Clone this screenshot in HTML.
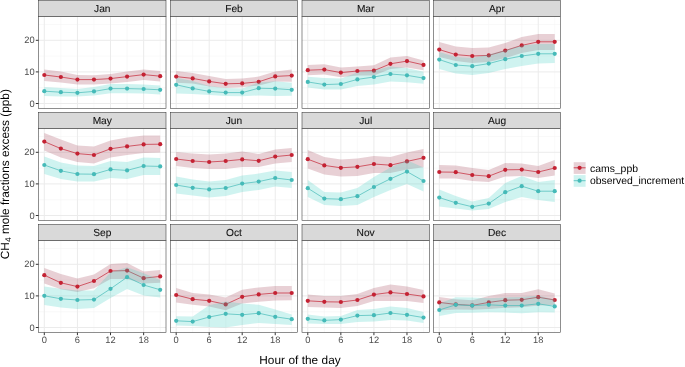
<!DOCTYPE html>
<html><head><meta charset="utf-8"><style>
html,body{margin:0;padding:0;background:#fff;}
body{width:685px;height:367px;overflow:hidden;}
svg{display:block;will-change:transform;text-rendering:geometricPrecision;font-family:"Liberation Sans",sans-serif;}
</style></head><body>
<svg width="685" height="367" viewBox="0 0 685 367">
<rect width="685" height="367" fill="#fff"/>
<line x1="60.85" y1="16.5" x2="60.85" y2="108.5" stroke="#F5F5F5" stroke-width="0.6"/>
<line x1="93.97" y1="16.5" x2="93.97" y2="108.5" stroke="#F5F5F5" stroke-width="0.6"/>
<line x1="127.09" y1="16.5" x2="127.09" y2="108.5" stroke="#F5F5F5" stroke-width="0.6"/>
<line x1="160.2" y1="16.5" x2="160.2" y2="108.5" stroke="#F5F5F5" stroke-width="0.6"/>
<line x1="38.5" y1="87.7" x2="166" y2="87.7" stroke="#F5F5F5" stroke-width="0.6"/>
<line x1="38.5" y1="56.1" x2="166" y2="56.1" stroke="#F5F5F5" stroke-width="0.6"/>
<line x1="38.5" y1="24.5" x2="166" y2="24.5" stroke="#F5F5F5" stroke-width="0.6"/>
<line x1="44.3" y1="16.5" x2="44.3" y2="108.5" stroke="#EBEBEB" stroke-width="1"/>
<line x1="77.41" y1="16.5" x2="77.41" y2="108.5" stroke="#EBEBEB" stroke-width="1"/>
<line x1="110.53" y1="16.5" x2="110.53" y2="108.5" stroke="#EBEBEB" stroke-width="1"/>
<line x1="143.65" y1="16.5" x2="143.65" y2="108.5" stroke="#EBEBEB" stroke-width="1"/>
<line x1="38.5" y1="103.5" x2="166" y2="103.5" stroke="#EBEBEB" stroke-width="1"/>
<line x1="38.5" y1="71.9" x2="166" y2="71.9" stroke="#EBEBEB" stroke-width="1"/>
<line x1="38.5" y1="40.3" x2="166" y2="40.3" stroke="#EBEBEB" stroke-width="1"/>
<path d="M44.3,69.4 L60.85,71.6 L77.41,75 L93.97,75.2 L110.53,74 L127.09,71.4 L143.65,69.4 L160.2,71 L160.2,81.6 L143.65,80 L127.09,82 L110.53,83.6 L93.97,84.4 L77.41,84.4 L60.85,82.4 L44.3,81 Z" fill="rgb(163,67,87)" fill-opacity="0.25"/>
<path d="M44.3,75 L60.85,77 L77.41,79.6 L93.97,79.6 L110.53,78.6 L127.09,76.6 L143.65,74.6 L160.2,76.2" fill="none" stroke="#C42233" stroke-width="0.7"/>
<circle cx="44.3" cy="75" r="2.1" fill="#C42233"/>
<circle cx="60.85" cy="77" r="2.1" fill="#C42233"/>
<circle cx="77.41" cy="79.6" r="2.1" fill="#C42233"/>
<circle cx="93.97" cy="79.6" r="2.1" fill="#C42233"/>
<circle cx="110.53" cy="78.6" r="2.1" fill="#C42233"/>
<circle cx="127.09" cy="76.6" r="2.1" fill="#C42233"/>
<circle cx="143.65" cy="74.6" r="2.1" fill="#C42233"/>
<circle cx="160.2" cy="76.2" r="2.1" fill="#C42233"/>
<path d="M44.3,87 L60.85,88 L77.41,89 L93.97,87 L110.53,84 L127.09,84 L143.65,84.4 L160.2,85.4 L160.2,94.4 L143.65,93.6 L127.09,93.2 L110.53,93.2 L93.97,95.6 L77.41,96.6 L60.85,96.4 L44.3,96 Z" fill="rgb(63,207,195)" fill-opacity="0.25"/>
<path d="M44.3,91.2 L60.85,92.2 L77.41,92.8 L93.97,91.4 L110.53,88.6 L127.09,88.6 L143.65,89 L160.2,89.8" fill="none" stroke="#45BAB8" stroke-width="0.7"/>
<circle cx="44.3" cy="91.2" r="2.1" fill="#45BAB8"/>
<circle cx="60.85" cy="92.2" r="2.1" fill="#45BAB8"/>
<circle cx="77.41" cy="92.8" r="2.1" fill="#45BAB8"/>
<circle cx="93.97" cy="91.4" r="2.1" fill="#45BAB8"/>
<circle cx="110.53" cy="88.6" r="2.1" fill="#45BAB8"/>
<circle cx="127.09" cy="88.6" r="2.1" fill="#45BAB8"/>
<circle cx="143.65" cy="89" r="2.1" fill="#45BAB8"/>
<circle cx="160.2" cy="89.8" r="2.1" fill="#45BAB8"/>
<rect x="38.5" y="16.5" width="127.5" height="92" fill="none" stroke="#333" stroke-width="0.55"/>
<rect x="38.5" y="0.5" width="127.5" height="16" fill="#D9D9D9" stroke="#333" stroke-width="0.55"/>
<text x="102.25" y="12" text-anchor="middle" font-size="10.2" fill="#111" stroke="#111" stroke-width="0.08">Jan</text>
<line x1="35.8" y1="103.5" x2="38.5" y2="103.5" stroke="#333" stroke-width="1"/>
<text x="34.7" y="106.6" text-anchor="end" font-size="9.3" fill="#4D4D4D">0</text>
<line x1="35.8" y1="71.9" x2="38.5" y2="71.9" stroke="#333" stroke-width="1"/>
<text x="34.7" y="75" text-anchor="end" font-size="9.3" fill="#4D4D4D">10</text>
<line x1="35.8" y1="40.3" x2="38.5" y2="40.3" stroke="#333" stroke-width="1"/>
<text x="34.7" y="43.4" text-anchor="end" font-size="9.3" fill="#4D4D4D">20</text>
<line x1="192.68" y1="16.5" x2="192.68" y2="108.5" stroke="#F5F5F5" stroke-width="0.6"/>
<line x1="225.7" y1="16.5" x2="225.7" y2="108.5" stroke="#F5F5F5" stroke-width="0.6"/>
<line x1="258.71" y1="16.5" x2="258.71" y2="108.5" stroke="#F5F5F5" stroke-width="0.6"/>
<line x1="291.72" y1="16.5" x2="291.72" y2="108.5" stroke="#F5F5F5" stroke-width="0.6"/>
<line x1="170.4" y1="87.7" x2="297.5" y2="87.7" stroke="#F5F5F5" stroke-width="0.6"/>
<line x1="170.4" y1="56.1" x2="297.5" y2="56.1" stroke="#F5F5F5" stroke-width="0.6"/>
<line x1="170.4" y1="24.5" x2="297.5" y2="24.5" stroke="#F5F5F5" stroke-width="0.6"/>
<line x1="176.18" y1="16.5" x2="176.18" y2="108.5" stroke="#EBEBEB" stroke-width="1"/>
<line x1="209.19" y1="16.5" x2="209.19" y2="108.5" stroke="#EBEBEB" stroke-width="1"/>
<line x1="242.2" y1="16.5" x2="242.2" y2="108.5" stroke="#EBEBEB" stroke-width="1"/>
<line x1="275.22" y1="16.5" x2="275.22" y2="108.5" stroke="#EBEBEB" stroke-width="1"/>
<line x1="170.4" y1="103.5" x2="297.5" y2="103.5" stroke="#EBEBEB" stroke-width="1"/>
<line x1="170.4" y1="71.9" x2="297.5" y2="71.9" stroke="#EBEBEB" stroke-width="1"/>
<line x1="170.4" y1="40.3" x2="297.5" y2="40.3" stroke="#EBEBEB" stroke-width="1"/>
<path d="M176.18,71 L192.68,73 L209.19,76 L225.7,79 L242.2,78.6 L258.71,76.6 L275.22,71.4 L291.72,69.6 L291.72,81.8 L275.22,81.4 L258.71,85.6 L242.2,87.2 L225.7,88 L209.19,86.4 L192.68,83.6 L176.18,82.8 Z" fill="rgb(163,67,87)" fill-opacity="0.25"/>
<path d="M176.18,76.6 L192.68,78.4 L209.19,81.4 L225.7,83.8 L242.2,83.4 L258.71,81.8 L275.22,76.4 L291.72,75.6" fill="none" stroke="#C42233" stroke-width="0.7"/>
<circle cx="176.18" cy="76.6" r="2.1" fill="#C42233"/>
<circle cx="192.68" cy="78.4" r="2.1" fill="#C42233"/>
<circle cx="209.19" cy="81.4" r="2.1" fill="#C42233"/>
<circle cx="225.7" cy="83.8" r="2.1" fill="#C42233"/>
<circle cx="242.2" cy="83.4" r="2.1" fill="#C42233"/>
<circle cx="258.71" cy="81.8" r="2.1" fill="#C42233"/>
<circle cx="275.22" cy="76.4" r="2.1" fill="#C42233"/>
<circle cx="291.72" cy="75.6" r="2.1" fill="#C42233"/>
<path d="M176.18,77.8 L192.68,81 L209.19,86 L225.7,88 L242.2,88.4 L258.71,82.4 L275.22,81.2 L291.72,82.8 L291.72,95.8 L275.22,96 L258.71,95.4 L242.2,96.2 L225.7,96 L209.19,95 L192.68,94 L176.18,93.6 Z" fill="rgb(63,207,195)" fill-opacity="0.25"/>
<path d="M176.18,84.8 L192.68,88.4 L209.19,91.4 L225.7,92.6 L242.2,92.6 L258.71,88.2 L275.22,88.6 L291.72,89.8" fill="none" stroke="#45BAB8" stroke-width="0.7"/>
<circle cx="176.18" cy="84.8" r="2.1" fill="#45BAB8"/>
<circle cx="192.68" cy="88.4" r="2.1" fill="#45BAB8"/>
<circle cx="209.19" cy="91.4" r="2.1" fill="#45BAB8"/>
<circle cx="225.7" cy="92.6" r="2.1" fill="#45BAB8"/>
<circle cx="242.2" cy="92.6" r="2.1" fill="#45BAB8"/>
<circle cx="258.71" cy="88.2" r="2.1" fill="#45BAB8"/>
<circle cx="275.22" cy="88.6" r="2.1" fill="#45BAB8"/>
<circle cx="291.72" cy="89.8" r="2.1" fill="#45BAB8"/>
<rect x="170.4" y="16.5" width="127.1" height="92" fill="none" stroke="#333" stroke-width="0.55"/>
<rect x="170.4" y="0.5" width="127.1" height="16" fill="#D9D9D9" stroke="#333" stroke-width="0.55"/>
<text x="233.95" y="12" text-anchor="middle" font-size="10.2" fill="#111" stroke="#111" stroke-width="0.08">Feb</text>
<line x1="324.32" y1="16.5" x2="324.32" y2="108.5" stroke="#F5F5F5" stroke-width="0.6"/>
<line x1="357.38" y1="16.5" x2="357.38" y2="108.5" stroke="#F5F5F5" stroke-width="0.6"/>
<line x1="390.45" y1="16.5" x2="390.45" y2="108.5" stroke="#F5F5F5" stroke-width="0.6"/>
<line x1="423.51" y1="16.5" x2="423.51" y2="108.5" stroke="#F5F5F5" stroke-width="0.6"/>
<line x1="302" y1="87.7" x2="429.3" y2="87.7" stroke="#F5F5F5" stroke-width="0.6"/>
<line x1="302" y1="56.1" x2="429.3" y2="56.1" stroke="#F5F5F5" stroke-width="0.6"/>
<line x1="302" y1="24.5" x2="429.3" y2="24.5" stroke="#F5F5F5" stroke-width="0.6"/>
<line x1="307.79" y1="16.5" x2="307.79" y2="108.5" stroke="#EBEBEB" stroke-width="1"/>
<line x1="340.85" y1="16.5" x2="340.85" y2="108.5" stroke="#EBEBEB" stroke-width="1"/>
<line x1="373.92" y1="16.5" x2="373.92" y2="108.5" stroke="#EBEBEB" stroke-width="1"/>
<line x1="406.98" y1="16.5" x2="406.98" y2="108.5" stroke="#EBEBEB" stroke-width="1"/>
<line x1="302" y1="103.5" x2="429.3" y2="103.5" stroke="#EBEBEB" stroke-width="1"/>
<line x1="302" y1="71.9" x2="429.3" y2="71.9" stroke="#EBEBEB" stroke-width="1"/>
<line x1="302" y1="40.3" x2="429.3" y2="40.3" stroke="#EBEBEB" stroke-width="1"/>
<path d="M307.79,65 L324.32,64.2 L340.85,67.4 L357.38,66.4 L373.92,65.3 L390.45,57.6 L406.98,56 L423.51,60.4 L423.51,70.2 L406.98,67.4 L390.45,69.1 L373.92,75.6 L357.38,75.6 L340.85,77.2 L324.32,74.52 L307.79,75.3 Z" fill="rgb(163,67,87)" fill-opacity="0.25"/>
<path d="M307.79,70.2 L324.32,69.6 L340.85,72.6 L357.38,71 L373.92,70.7 L390.45,63.8 L406.98,61.1 L423.51,64.9" fill="none" stroke="#C42233" stroke-width="0.7"/>
<circle cx="307.79" cy="70.2" r="2.1" fill="#C42233"/>
<circle cx="324.32" cy="69.6" r="2.1" fill="#C42233"/>
<circle cx="340.85" cy="72.6" r="2.1" fill="#C42233"/>
<circle cx="357.38" cy="71" r="2.1" fill="#C42233"/>
<circle cx="373.92" cy="70.7" r="2.1" fill="#C42233"/>
<circle cx="390.45" cy="63.8" r="2.1" fill="#C42233"/>
<circle cx="406.98" cy="61.1" r="2.1" fill="#C42233"/>
<circle cx="423.51" cy="64.9" r="2.1" fill="#C42233"/>
<path d="M307.79,76.72 L324.32,78.12 L340.85,78.6 L357.38,72.4 L373.92,70.4 L390.45,66.4 L406.98,68 L423.51,71.8 L423.51,83.8 L406.98,82.2 L390.45,81.6 L373.92,84.4 L357.38,86 L340.85,89.6 L324.32,89.6 L307.79,87.6 Z" fill="rgb(63,207,195)" fill-opacity="0.25"/>
<path d="M307.79,81.94 L324.32,84.6 L340.85,84 L357.38,79.4 L373.92,77 L390.45,74 L406.98,75.3 L423.51,78.1" fill="none" stroke="#45BAB8" stroke-width="0.7"/>
<circle cx="307.79" cy="81.94" r="2.1" fill="#45BAB8"/>
<circle cx="324.32" cy="84.6" r="2.1" fill="#45BAB8"/>
<circle cx="340.85" cy="84" r="2.1" fill="#45BAB8"/>
<circle cx="357.38" cy="79.4" r="2.1" fill="#45BAB8"/>
<circle cx="373.92" cy="77" r="2.1" fill="#45BAB8"/>
<circle cx="390.45" cy="74" r="2.1" fill="#45BAB8"/>
<circle cx="406.98" cy="75.3" r="2.1" fill="#45BAB8"/>
<circle cx="423.51" cy="78.1" r="2.1" fill="#45BAB8"/>
<rect x="302" y="16.5" width="127.3" height="92" fill="none" stroke="#333" stroke-width="0.55"/>
<rect x="302" y="0.5" width="127.3" height="16" fill="#D9D9D9" stroke="#333" stroke-width="0.55"/>
<text x="365.65" y="12" text-anchor="middle" font-size="10.2" fill="#111" stroke="#111" stroke-width="0.08">Mar</text>
<line x1="455.77" y1="16.5" x2="455.77" y2="108.5" stroke="#F5F5F5" stroke-width="0.6"/>
<line x1="488.75" y1="16.5" x2="488.75" y2="108.5" stroke="#F5F5F5" stroke-width="0.6"/>
<line x1="521.74" y1="16.5" x2="521.74" y2="108.5" stroke="#F5F5F5" stroke-width="0.6"/>
<line x1="554.73" y1="16.5" x2="554.73" y2="108.5" stroke="#F5F5F5" stroke-width="0.6"/>
<line x1="433.5" y1="87.7" x2="560.5" y2="87.7" stroke="#F5F5F5" stroke-width="0.6"/>
<line x1="433.5" y1="56.1" x2="560.5" y2="56.1" stroke="#F5F5F5" stroke-width="0.6"/>
<line x1="433.5" y1="24.5" x2="560.5" y2="24.5" stroke="#F5F5F5" stroke-width="0.6"/>
<line x1="439.27" y1="16.5" x2="439.27" y2="108.5" stroke="#EBEBEB" stroke-width="1"/>
<line x1="472.26" y1="16.5" x2="472.26" y2="108.5" stroke="#EBEBEB" stroke-width="1"/>
<line x1="505.25" y1="16.5" x2="505.25" y2="108.5" stroke="#EBEBEB" stroke-width="1"/>
<line x1="538.23" y1="16.5" x2="538.23" y2="108.5" stroke="#EBEBEB" stroke-width="1"/>
<line x1="433.5" y1="103.5" x2="560.5" y2="103.5" stroke="#EBEBEB" stroke-width="1"/>
<line x1="433.5" y1="71.9" x2="560.5" y2="71.9" stroke="#EBEBEB" stroke-width="1"/>
<line x1="433.5" y1="40.3" x2="560.5" y2="40.3" stroke="#EBEBEB" stroke-width="1"/>
<path d="M439.27,42 L455.77,46.6 L472.26,48 L488.75,47.4 L505.25,43 L521.74,37 L538.23,34 L554.73,34 L554.73,50 L538.23,50 L521.74,53 L505.25,58 L488.75,62 L472.26,63 L455.77,61 L439.27,57 Z" fill="rgb(163,67,87)" fill-opacity="0.25"/>
<path d="M439.27,49.6 L455.77,54.6 L472.26,56 L488.75,55.4 L505.25,50.6 L521.74,45.4 L538.23,41.8 L554.73,41.8" fill="none" stroke="#C42233" stroke-width="0.7"/>
<circle cx="439.27" cy="49.6" r="2.1" fill="#C42233"/>
<circle cx="455.77" cy="54.6" r="2.1" fill="#C42233"/>
<circle cx="472.26" cy="56" r="2.1" fill="#C42233"/>
<circle cx="488.75" cy="55.4" r="2.1" fill="#C42233"/>
<circle cx="505.25" cy="50.6" r="2.1" fill="#C42233"/>
<circle cx="521.74" cy="45.4" r="2.1" fill="#C42233"/>
<circle cx="538.23" cy="41.8" r="2.1" fill="#C42233"/>
<circle cx="554.73" cy="41.8" r="2.1" fill="#C42233"/>
<path d="M439.27,52 L455.77,57 L472.26,58 L488.75,54.6 L505.25,50 L521.74,45.6 L538.23,44 L554.73,44 L554.73,63 L538.23,63.6 L521.74,66 L505.25,69 L488.75,73 L472.26,75 L455.77,73.6 L439.27,69 Z" fill="rgb(63,207,195)" fill-opacity="0.25"/>
<path d="M439.27,59.6 L455.77,65 L472.26,66.2 L488.75,63.6 L505.25,59.2 L521.74,56 L538.23,53.8 L554.73,53.8" fill="none" stroke="#45BAB8" stroke-width="0.7"/>
<circle cx="439.27" cy="59.6" r="2.1" fill="#45BAB8"/>
<circle cx="455.77" cy="65" r="2.1" fill="#45BAB8"/>
<circle cx="472.26" cy="66.2" r="2.1" fill="#45BAB8"/>
<circle cx="488.75" cy="63.6" r="2.1" fill="#45BAB8"/>
<circle cx="505.25" cy="59.2" r="2.1" fill="#45BAB8"/>
<circle cx="521.74" cy="56" r="2.1" fill="#45BAB8"/>
<circle cx="538.23" cy="53.8" r="2.1" fill="#45BAB8"/>
<circle cx="554.73" cy="53.8" r="2.1" fill="#45BAB8"/>
<rect x="433.5" y="16.5" width="127" height="92" fill="none" stroke="#333" stroke-width="0.55"/>
<rect x="433.5" y="0.5" width="127" height="16" fill="#D9D9D9" stroke="#333" stroke-width="0.55"/>
<text x="497" y="12" text-anchor="middle" font-size="10.2" fill="#111" stroke="#111" stroke-width="0.08">Apr</text>
<line x1="60.85" y1="128.5" x2="60.85" y2="220.5" stroke="#F5F5F5" stroke-width="0.6"/>
<line x1="93.97" y1="128.5" x2="93.97" y2="220.5" stroke="#F5F5F5" stroke-width="0.6"/>
<line x1="127.09" y1="128.5" x2="127.09" y2="220.5" stroke="#F5F5F5" stroke-width="0.6"/>
<line x1="160.2" y1="128.5" x2="160.2" y2="220.5" stroke="#F5F5F5" stroke-width="0.6"/>
<line x1="38.5" y1="199.7" x2="166" y2="199.7" stroke="#F5F5F5" stroke-width="0.6"/>
<line x1="38.5" y1="168.1" x2="166" y2="168.1" stroke="#F5F5F5" stroke-width="0.6"/>
<line x1="38.5" y1="136.5" x2="166" y2="136.5" stroke="#F5F5F5" stroke-width="0.6"/>
<line x1="44.3" y1="128.5" x2="44.3" y2="220.5" stroke="#EBEBEB" stroke-width="1"/>
<line x1="77.41" y1="128.5" x2="77.41" y2="220.5" stroke="#EBEBEB" stroke-width="1"/>
<line x1="110.53" y1="128.5" x2="110.53" y2="220.5" stroke="#EBEBEB" stroke-width="1"/>
<line x1="143.65" y1="128.5" x2="143.65" y2="220.5" stroke="#EBEBEB" stroke-width="1"/>
<line x1="38.5" y1="215.5" x2="166" y2="215.5" stroke="#EBEBEB" stroke-width="1"/>
<line x1="38.5" y1="183.9" x2="166" y2="183.9" stroke="#EBEBEB" stroke-width="1"/>
<line x1="38.5" y1="152.3" x2="166" y2="152.3" stroke="#EBEBEB" stroke-width="1"/>
<path d="M44.3,133 L60.85,139.6 L77.41,145.6 L93.97,146.6 L110.53,140.4 L127.09,137.6 L143.65,135.4 L160.2,135.4 L160.2,152.6 L143.65,153 L127.09,155 L110.53,157.4 L93.97,163.6 L77.41,162 L60.85,157.6 L44.3,150.4 Z" fill="rgb(163,67,87)" fill-opacity="0.25"/>
<path d="M44.3,141.6 L60.85,148.6 L77.41,153.6 L93.97,155 L110.53,148.8 L127.09,146.4 L143.65,144.4 L160.2,144.2" fill="none" stroke="#C42233" stroke-width="0.7"/>
<circle cx="44.3" cy="141.6" r="2.1" fill="#C42233"/>
<circle cx="60.85" cy="148.6" r="2.1" fill="#C42233"/>
<circle cx="77.41" cy="153.6" r="2.1" fill="#C42233"/>
<circle cx="93.97" cy="155" r="2.1" fill="#C42233"/>
<circle cx="110.53" cy="148.8" r="2.1" fill="#C42233"/>
<circle cx="127.09" cy="146.4" r="2.1" fill="#C42233"/>
<circle cx="143.65" cy="144.4" r="2.1" fill="#C42233"/>
<circle cx="160.2" cy="144.2" r="2.1" fill="#C42233"/>
<path d="M44.3,156.6 L60.85,162.4 L77.41,165.6 L93.97,166 L110.53,161 L127.09,162 L143.65,157.6 L160.2,158 L160.2,175 L143.65,175 L127.09,179 L110.53,178 L93.97,181.6 L77.41,181.6 L60.85,179 L44.3,174 Z" fill="rgb(63,207,195)" fill-opacity="0.25"/>
<path d="M44.3,165 L60.85,170.8 L77.41,174 L93.97,174.2 L110.53,169.4 L127.09,170.4 L143.65,166 L160.2,166.4" fill="none" stroke="#45BAB8" stroke-width="0.7"/>
<circle cx="44.3" cy="165" r="2.1" fill="#45BAB8"/>
<circle cx="60.85" cy="170.8" r="2.1" fill="#45BAB8"/>
<circle cx="77.41" cy="174" r="2.1" fill="#45BAB8"/>
<circle cx="93.97" cy="174.2" r="2.1" fill="#45BAB8"/>
<circle cx="110.53" cy="169.4" r="2.1" fill="#45BAB8"/>
<circle cx="127.09" cy="170.4" r="2.1" fill="#45BAB8"/>
<circle cx="143.65" cy="166" r="2.1" fill="#45BAB8"/>
<circle cx="160.2" cy="166.4" r="2.1" fill="#45BAB8"/>
<rect x="38.5" y="128.5" width="127.5" height="92" fill="none" stroke="#333" stroke-width="0.55"/>
<rect x="38.5" y="112.5" width="127.5" height="16" fill="#D9D9D9" stroke="#333" stroke-width="0.55"/>
<text x="102.25" y="124" text-anchor="middle" font-size="10.2" fill="#111" stroke="#111" stroke-width="0.08">May</text>
<line x1="35.8" y1="215.5" x2="38.5" y2="215.5" stroke="#333" stroke-width="1"/>
<text x="34.7" y="218.6" text-anchor="end" font-size="9.3" fill="#4D4D4D">0</text>
<line x1="35.8" y1="183.9" x2="38.5" y2="183.9" stroke="#333" stroke-width="1"/>
<text x="34.7" y="187" text-anchor="end" font-size="9.3" fill="#4D4D4D">10</text>
<line x1="35.8" y1="152.3" x2="38.5" y2="152.3" stroke="#333" stroke-width="1"/>
<text x="34.7" y="155.4" text-anchor="end" font-size="9.3" fill="#4D4D4D">20</text>
<line x1="192.68" y1="128.5" x2="192.68" y2="220.5" stroke="#F5F5F5" stroke-width="0.6"/>
<line x1="225.7" y1="128.5" x2="225.7" y2="220.5" stroke="#F5F5F5" stroke-width="0.6"/>
<line x1="258.71" y1="128.5" x2="258.71" y2="220.5" stroke="#F5F5F5" stroke-width="0.6"/>
<line x1="291.72" y1="128.5" x2="291.72" y2="220.5" stroke="#F5F5F5" stroke-width="0.6"/>
<line x1="170.4" y1="199.7" x2="297.5" y2="199.7" stroke="#F5F5F5" stroke-width="0.6"/>
<line x1="170.4" y1="168.1" x2="297.5" y2="168.1" stroke="#F5F5F5" stroke-width="0.6"/>
<line x1="170.4" y1="136.5" x2="297.5" y2="136.5" stroke="#F5F5F5" stroke-width="0.6"/>
<line x1="176.18" y1="128.5" x2="176.18" y2="220.5" stroke="#EBEBEB" stroke-width="1"/>
<line x1="209.19" y1="128.5" x2="209.19" y2="220.5" stroke="#EBEBEB" stroke-width="1"/>
<line x1="242.2" y1="128.5" x2="242.2" y2="220.5" stroke="#EBEBEB" stroke-width="1"/>
<line x1="275.22" y1="128.5" x2="275.22" y2="220.5" stroke="#EBEBEB" stroke-width="1"/>
<line x1="170.4" y1="215.5" x2="297.5" y2="215.5" stroke="#EBEBEB" stroke-width="1"/>
<line x1="170.4" y1="183.9" x2="297.5" y2="183.9" stroke="#EBEBEB" stroke-width="1"/>
<line x1="170.4" y1="152.3" x2="297.5" y2="152.3" stroke="#EBEBEB" stroke-width="1"/>
<path d="M176.18,152 L192.68,153.6 L209.19,154.4 L225.7,153.4 L242.2,151.4 L258.71,154 L275.22,149.4 L291.72,148 L291.72,162 L275.22,163.4 L258.71,167 L242.2,167 L225.7,169 L209.19,169 L192.68,168 L176.18,166 Z" fill="rgb(163,67,87)" fill-opacity="0.25"/>
<path d="M176.18,159 L192.68,161 L209.19,162 L225.7,161 L242.2,159.4 L258.71,160.8 L275.22,156.6 L291.72,155" fill="none" stroke="#C42233" stroke-width="0.7"/>
<circle cx="176.18" cy="159" r="2.1" fill="#C42233"/>
<circle cx="192.68" cy="161" r="2.1" fill="#C42233"/>
<circle cx="209.19" cy="162" r="2.1" fill="#C42233"/>
<circle cx="225.7" cy="161" r="2.1" fill="#C42233"/>
<circle cx="242.2" cy="159.4" r="2.1" fill="#C42233"/>
<circle cx="258.71" cy="160.8" r="2.1" fill="#C42233"/>
<circle cx="275.22" cy="156.6" r="2.1" fill="#C42233"/>
<circle cx="291.72" cy="155" r="2.1" fill="#C42233"/>
<path d="M176.18,176.4 L192.68,179.4 L209.19,181.4 L225.7,180 L242.2,175.6 L258.71,173.6 L275.22,170.6 L291.72,172 L291.72,188 L275.22,186.6 L258.71,190 L242.2,192 L225.7,196 L209.19,197.4 L192.68,195.6 L176.18,193.6 Z" fill="rgb(63,207,195)" fill-opacity="0.25"/>
<path d="M176.18,185 L192.68,187.8 L209.19,189.4 L225.7,188 L242.2,183.6 L258.71,181.6 L275.22,178 L291.72,180" fill="none" stroke="#45BAB8" stroke-width="0.7"/>
<circle cx="176.18" cy="185" r="2.1" fill="#45BAB8"/>
<circle cx="192.68" cy="187.8" r="2.1" fill="#45BAB8"/>
<circle cx="209.19" cy="189.4" r="2.1" fill="#45BAB8"/>
<circle cx="225.7" cy="188" r="2.1" fill="#45BAB8"/>
<circle cx="242.2" cy="183.6" r="2.1" fill="#45BAB8"/>
<circle cx="258.71" cy="181.6" r="2.1" fill="#45BAB8"/>
<circle cx="275.22" cy="178" r="2.1" fill="#45BAB8"/>
<circle cx="291.72" cy="180" r="2.1" fill="#45BAB8"/>
<rect x="170.4" y="128.5" width="127.1" height="92" fill="none" stroke="#333" stroke-width="0.55"/>
<rect x="170.4" y="112.5" width="127.1" height="16" fill="#D9D9D9" stroke="#333" stroke-width="0.55"/>
<text x="233.95" y="124" text-anchor="middle" font-size="10.2" fill="#111" stroke="#111" stroke-width="0.08">Jun</text>
<line x1="324.32" y1="128.5" x2="324.32" y2="220.5" stroke="#F5F5F5" stroke-width="0.6"/>
<line x1="357.38" y1="128.5" x2="357.38" y2="220.5" stroke="#F5F5F5" stroke-width="0.6"/>
<line x1="390.45" y1="128.5" x2="390.45" y2="220.5" stroke="#F5F5F5" stroke-width="0.6"/>
<line x1="423.51" y1="128.5" x2="423.51" y2="220.5" stroke="#F5F5F5" stroke-width="0.6"/>
<line x1="302" y1="199.7" x2="429.3" y2="199.7" stroke="#F5F5F5" stroke-width="0.6"/>
<line x1="302" y1="168.1" x2="429.3" y2="168.1" stroke="#F5F5F5" stroke-width="0.6"/>
<line x1="302" y1="136.5" x2="429.3" y2="136.5" stroke="#F5F5F5" stroke-width="0.6"/>
<line x1="307.79" y1="128.5" x2="307.79" y2="220.5" stroke="#EBEBEB" stroke-width="1"/>
<line x1="340.85" y1="128.5" x2="340.85" y2="220.5" stroke="#EBEBEB" stroke-width="1"/>
<line x1="373.92" y1="128.5" x2="373.92" y2="220.5" stroke="#EBEBEB" stroke-width="1"/>
<line x1="406.98" y1="128.5" x2="406.98" y2="220.5" stroke="#EBEBEB" stroke-width="1"/>
<line x1="302" y1="215.5" x2="429.3" y2="215.5" stroke="#EBEBEB" stroke-width="1"/>
<line x1="302" y1="183.9" x2="429.3" y2="183.9" stroke="#EBEBEB" stroke-width="1"/>
<line x1="302" y1="152.3" x2="429.3" y2="152.3" stroke="#EBEBEB" stroke-width="1"/>
<path d="M307.79,150 L324.32,157 L340.85,159.4 L357.38,158.4 L373.92,156 L390.45,157 L406.98,152.6 L423.51,149 L423.51,167.2 L406.98,169.4 L390.45,173 L373.92,173 L357.38,176 L340.85,176.6 L324.32,174.4 L307.79,168.6 Z" fill="rgb(163,67,87)" fill-opacity="0.25"/>
<path d="M307.79,159.2 L324.32,165.4 L340.85,167.8 L357.38,166.8 L373.92,164 L390.45,165.2 L406.98,161.4 L423.51,157.8" fill="none" stroke="#C42233" stroke-width="0.7"/>
<circle cx="307.79" cy="159.2" r="2.1" fill="#C42233"/>
<circle cx="324.32" cy="165.4" r="2.1" fill="#C42233"/>
<circle cx="340.85" cy="167.8" r="2.1" fill="#C42233"/>
<circle cx="357.38" cy="166.8" r="2.1" fill="#C42233"/>
<circle cx="373.92" cy="164" r="2.1" fill="#C42233"/>
<circle cx="390.45" cy="165.2" r="2.1" fill="#C42233"/>
<circle cx="406.98" cy="161.4" r="2.1" fill="#C42233"/>
<circle cx="423.51" cy="157.8" r="2.1" fill="#C42233"/>
<path d="M307.79,180 L324.32,192 L340.85,192.4 L357.38,188 L373.92,177 L390.45,167.4 L406.98,160.2 L423.51,167.4 L423.51,191.6 L406.98,184 L390.45,190 L373.92,197 L357.38,205 L340.85,206 L324.32,205 L307.79,197 Z" fill="rgb(63,207,195)" fill-opacity="0.25"/>
<path d="M307.79,188.2 L324.32,198.6 L340.85,199.2 L357.38,196.2 L373.92,187 L390.45,178.8 L406.98,171.6 L423.51,181" fill="none" stroke="#45BAB8" stroke-width="0.7"/>
<circle cx="307.79" cy="188.2" r="2.1" fill="#45BAB8"/>
<circle cx="324.32" cy="198.6" r="2.1" fill="#45BAB8"/>
<circle cx="340.85" cy="199.2" r="2.1" fill="#45BAB8"/>
<circle cx="357.38" cy="196.2" r="2.1" fill="#45BAB8"/>
<circle cx="373.92" cy="187" r="2.1" fill="#45BAB8"/>
<circle cx="390.45" cy="178.8" r="2.1" fill="#45BAB8"/>
<circle cx="406.98" cy="171.6" r="2.1" fill="#45BAB8"/>
<circle cx="423.51" cy="181" r="2.1" fill="#45BAB8"/>
<rect x="302" y="128.5" width="127.3" height="92" fill="none" stroke="#333" stroke-width="0.55"/>
<rect x="302" y="112.5" width="127.3" height="16" fill="#D9D9D9" stroke="#333" stroke-width="0.55"/>
<text x="365.65" y="124" text-anchor="middle" font-size="10.2" fill="#111" stroke="#111" stroke-width="0.08">Jul</text>
<line x1="455.77" y1="128.5" x2="455.77" y2="220.5" stroke="#F5F5F5" stroke-width="0.6"/>
<line x1="488.75" y1="128.5" x2="488.75" y2="220.5" stroke="#F5F5F5" stroke-width="0.6"/>
<line x1="521.74" y1="128.5" x2="521.74" y2="220.5" stroke="#F5F5F5" stroke-width="0.6"/>
<line x1="554.73" y1="128.5" x2="554.73" y2="220.5" stroke="#F5F5F5" stroke-width="0.6"/>
<line x1="433.5" y1="199.7" x2="560.5" y2="199.7" stroke="#F5F5F5" stroke-width="0.6"/>
<line x1="433.5" y1="168.1" x2="560.5" y2="168.1" stroke="#F5F5F5" stroke-width="0.6"/>
<line x1="433.5" y1="136.5" x2="560.5" y2="136.5" stroke="#F5F5F5" stroke-width="0.6"/>
<line x1="439.27" y1="128.5" x2="439.27" y2="220.5" stroke="#EBEBEB" stroke-width="1"/>
<line x1="472.26" y1="128.5" x2="472.26" y2="220.5" stroke="#EBEBEB" stroke-width="1"/>
<line x1="505.25" y1="128.5" x2="505.25" y2="220.5" stroke="#EBEBEB" stroke-width="1"/>
<line x1="538.23" y1="128.5" x2="538.23" y2="220.5" stroke="#EBEBEB" stroke-width="1"/>
<line x1="433.5" y1="215.5" x2="560.5" y2="215.5" stroke="#EBEBEB" stroke-width="1"/>
<line x1="433.5" y1="183.9" x2="560.5" y2="183.9" stroke="#EBEBEB" stroke-width="1"/>
<line x1="433.5" y1="152.3" x2="560.5" y2="152.3" stroke="#EBEBEB" stroke-width="1"/>
<path d="M439.27,165 L455.77,165.6 L472.26,168 L488.75,170 L505.25,163 L521.74,163.6 L538.23,166 L554.73,160 L554.73,175.6 L538.23,178 L521.74,176 L505.25,176.6 L488.75,182 L472.26,181 L455.77,178.6 L439.27,178.6 Z" fill="rgb(163,67,87)" fill-opacity="0.25"/>
<path d="M439.27,172 L455.77,172.2 L472.26,175 L488.75,176.2 L505.25,169.8 L521.74,169.6 L538.23,172 L554.73,168" fill="none" stroke="#C42233" stroke-width="0.7"/>
<circle cx="439.27" cy="172" r="2.1" fill="#C42233"/>
<circle cx="455.77" cy="172.2" r="2.1" fill="#C42233"/>
<circle cx="472.26" cy="175" r="2.1" fill="#C42233"/>
<circle cx="488.75" cy="176.2" r="2.1" fill="#C42233"/>
<circle cx="505.25" cy="169.8" r="2.1" fill="#C42233"/>
<circle cx="521.74" cy="169.6" r="2.1" fill="#C42233"/>
<circle cx="538.23" cy="172" r="2.1" fill="#C42233"/>
<circle cx="554.73" cy="168" r="2.1" fill="#C42233"/>
<path d="M439.27,189.6 L455.77,196 L472.26,201.6 L488.75,198 L505.25,183 L521.74,176 L538.23,182 L554.73,180 L554.73,202 L538.23,200 L521.74,197 L505.25,202 L488.75,209 L472.26,210.4 L455.77,208.4 L439.27,206.4 Z" fill="rgb(63,207,195)" fill-opacity="0.25"/>
<path d="M439.27,197.6 L455.77,202.8 L472.26,206.8 L488.75,203.6 L505.25,192.2 L521.74,186.2 L538.23,191.2 L554.73,191.2" fill="none" stroke="#45BAB8" stroke-width="0.7"/>
<circle cx="439.27" cy="197.6" r="2.1" fill="#45BAB8"/>
<circle cx="455.77" cy="202.8" r="2.1" fill="#45BAB8"/>
<circle cx="472.26" cy="206.8" r="2.1" fill="#45BAB8"/>
<circle cx="488.75" cy="203.6" r="2.1" fill="#45BAB8"/>
<circle cx="505.25" cy="192.2" r="2.1" fill="#45BAB8"/>
<circle cx="521.74" cy="186.2" r="2.1" fill="#45BAB8"/>
<circle cx="538.23" cy="191.2" r="2.1" fill="#45BAB8"/>
<circle cx="554.73" cy="191.2" r="2.1" fill="#45BAB8"/>
<rect x="433.5" y="128.5" width="127" height="92" fill="none" stroke="#333" stroke-width="0.55"/>
<rect x="433.5" y="112.5" width="127" height="16" fill="#D9D9D9" stroke="#333" stroke-width="0.55"/>
<text x="497" y="124" text-anchor="middle" font-size="10.2" fill="#111" stroke="#111" stroke-width="0.08">Aug</text>
<line x1="60.85" y1="240.5" x2="60.85" y2="332.5" stroke="#F5F5F5" stroke-width="0.6"/>
<line x1="93.97" y1="240.5" x2="93.97" y2="332.5" stroke="#F5F5F5" stroke-width="0.6"/>
<line x1="127.09" y1="240.5" x2="127.09" y2="332.5" stroke="#F5F5F5" stroke-width="0.6"/>
<line x1="160.2" y1="240.5" x2="160.2" y2="332.5" stroke="#F5F5F5" stroke-width="0.6"/>
<line x1="38.5" y1="311.7" x2="166" y2="311.7" stroke="#F5F5F5" stroke-width="0.6"/>
<line x1="38.5" y1="280.1" x2="166" y2="280.1" stroke="#F5F5F5" stroke-width="0.6"/>
<line x1="38.5" y1="248.5" x2="166" y2="248.5" stroke="#F5F5F5" stroke-width="0.6"/>
<line x1="44.3" y1="240.5" x2="44.3" y2="332.5" stroke="#EBEBEB" stroke-width="1"/>
<line x1="77.41" y1="240.5" x2="77.41" y2="332.5" stroke="#EBEBEB" stroke-width="1"/>
<line x1="110.53" y1="240.5" x2="110.53" y2="332.5" stroke="#EBEBEB" stroke-width="1"/>
<line x1="143.65" y1="240.5" x2="143.65" y2="332.5" stroke="#EBEBEB" stroke-width="1"/>
<line x1="38.5" y1="327.5" x2="166" y2="327.5" stroke="#EBEBEB" stroke-width="1"/>
<line x1="38.5" y1="295.9" x2="166" y2="295.9" stroke="#EBEBEB" stroke-width="1"/>
<line x1="38.5" y1="264.3" x2="166" y2="264.3" stroke="#EBEBEB" stroke-width="1"/>
<path d="M44.3,268 L60.85,274 L77.41,278.4 L93.97,274.6 L110.53,264 L127.09,263 L143.65,271.6 L160.2,270 L160.2,282.8 L143.65,283.6 L127.09,279 L110.53,279 L93.97,288.2 L77.41,292 L60.85,289.2 L44.3,283.6 Z" fill="rgb(163,67,87)" fill-opacity="0.25"/>
<path d="M44.3,275.2 L60.85,282.8 L77.41,286.6 L93.97,281 L110.53,271 L127.09,270.6 L143.65,278.2 L160.2,276.4" fill="none" stroke="#C42233" stroke-width="0.7"/>
<circle cx="44.3" cy="275.2" r="2.1" fill="#C42233"/>
<circle cx="60.85" cy="282.8" r="2.1" fill="#C42233"/>
<circle cx="77.41" cy="286.6" r="2.1" fill="#C42233"/>
<circle cx="93.97" cy="281" r="2.1" fill="#C42233"/>
<circle cx="110.53" cy="271" r="2.1" fill="#C42233"/>
<circle cx="127.09" cy="270.6" r="2.1" fill="#C42233"/>
<circle cx="143.65" cy="278.2" r="2.1" fill="#C42233"/>
<circle cx="160.2" cy="276.4" r="2.1" fill="#C42233"/>
<path d="M44.3,286.6 L60.85,288.8 L77.41,290.4 L93.97,290.6 L110.53,272.2 L127.09,267.2 L143.65,273.2 L160.2,280 L160.2,297.6 L143.65,295.6 L127.09,289 L110.53,298 L93.97,308 L77.41,309 L60.85,307.6 L44.3,305 Z" fill="rgb(63,207,195)" fill-opacity="0.25"/>
<path d="M44.3,295.8 L60.85,298.8 L77.41,300 L93.97,299.6 L110.53,288.8 L127.09,277.2 L143.65,285 L160.2,289.8" fill="none" stroke="#45BAB8" stroke-width="0.7"/>
<circle cx="44.3" cy="295.8" r="2.1" fill="#45BAB8"/>
<circle cx="60.85" cy="298.8" r="2.1" fill="#45BAB8"/>
<circle cx="77.41" cy="300" r="2.1" fill="#45BAB8"/>
<circle cx="93.97" cy="299.6" r="2.1" fill="#45BAB8"/>
<circle cx="110.53" cy="288.8" r="2.1" fill="#45BAB8"/>
<circle cx="127.09" cy="277.2" r="2.1" fill="#45BAB8"/>
<circle cx="143.65" cy="285" r="2.1" fill="#45BAB8"/>
<circle cx="160.2" cy="289.8" r="2.1" fill="#45BAB8"/>
<rect x="38.5" y="240.5" width="127.5" height="92" fill="none" stroke="#333" stroke-width="0.55"/>
<rect x="38.5" y="224.5" width="127.5" height="16" fill="#D9D9D9" stroke="#333" stroke-width="0.55"/>
<text x="102.25" y="236" text-anchor="middle" font-size="10.2" fill="#111" stroke="#111" stroke-width="0.08">Sep</text>
<line x1="35.8" y1="327.5" x2="38.5" y2="327.5" stroke="#333" stroke-width="1"/>
<text x="34.7" y="330.6" text-anchor="end" font-size="9.3" fill="#4D4D4D">0</text>
<line x1="35.8" y1="295.9" x2="38.5" y2="295.9" stroke="#333" stroke-width="1"/>
<text x="34.7" y="299" text-anchor="end" font-size="9.3" fill="#4D4D4D">10</text>
<line x1="35.8" y1="264.3" x2="38.5" y2="264.3" stroke="#333" stroke-width="1"/>
<text x="34.7" y="267.4" text-anchor="end" font-size="9.3" fill="#4D4D4D">20</text>
<line x1="44.3" y1="332.5" x2="44.3" y2="335.2" stroke="#333" stroke-width="1"/>
<text x="44.3" y="342.6" text-anchor="middle" font-size="9.3" fill="#4D4D4D">0</text>
<line x1="77.41" y1="332.5" x2="77.41" y2="335.2" stroke="#333" stroke-width="1"/>
<text x="77.41" y="342.6" text-anchor="middle" font-size="9.3" fill="#4D4D4D">6</text>
<line x1="110.53" y1="332.5" x2="110.53" y2="335.2" stroke="#333" stroke-width="1"/>
<text x="110.53" y="342.6" text-anchor="middle" font-size="9.3" fill="#4D4D4D">12</text>
<line x1="143.65" y1="332.5" x2="143.65" y2="335.2" stroke="#333" stroke-width="1"/>
<text x="143.65" y="342.6" text-anchor="middle" font-size="9.3" fill="#4D4D4D">18</text>
<line x1="192.68" y1="240.5" x2="192.68" y2="332.5" stroke="#F5F5F5" stroke-width="0.6"/>
<line x1="225.7" y1="240.5" x2="225.7" y2="332.5" stroke="#F5F5F5" stroke-width="0.6"/>
<line x1="258.71" y1="240.5" x2="258.71" y2="332.5" stroke="#F5F5F5" stroke-width="0.6"/>
<line x1="291.72" y1="240.5" x2="291.72" y2="332.5" stroke="#F5F5F5" stroke-width="0.6"/>
<line x1="170.4" y1="311.7" x2="297.5" y2="311.7" stroke="#F5F5F5" stroke-width="0.6"/>
<line x1="170.4" y1="280.1" x2="297.5" y2="280.1" stroke="#F5F5F5" stroke-width="0.6"/>
<line x1="170.4" y1="248.5" x2="297.5" y2="248.5" stroke="#F5F5F5" stroke-width="0.6"/>
<line x1="176.18" y1="240.5" x2="176.18" y2="332.5" stroke="#EBEBEB" stroke-width="1"/>
<line x1="209.19" y1="240.5" x2="209.19" y2="332.5" stroke="#EBEBEB" stroke-width="1"/>
<line x1="242.2" y1="240.5" x2="242.2" y2="332.5" stroke="#EBEBEB" stroke-width="1"/>
<line x1="275.22" y1="240.5" x2="275.22" y2="332.5" stroke="#EBEBEB" stroke-width="1"/>
<line x1="170.4" y1="327.5" x2="297.5" y2="327.5" stroke="#EBEBEB" stroke-width="1"/>
<line x1="170.4" y1="295.9" x2="297.5" y2="295.9" stroke="#EBEBEB" stroke-width="1"/>
<line x1="170.4" y1="264.3" x2="297.5" y2="264.3" stroke="#EBEBEB" stroke-width="1"/>
<path d="M176.18,288 L192.68,293 L209.19,294.4 L225.7,297.6 L242.2,289.8 L258.71,287.4 L275.22,286 L291.72,286 L291.72,300.2 L275.22,300.6 L258.71,301.8 L242.2,303.4 L225.7,310.2 L209.19,306.4 L192.68,304.8 L176.18,302.6 Z" fill="rgb(163,67,87)" fill-opacity="0.25"/>
<path d="M176.18,295 L192.68,299.2 L209.19,300.8 L225.7,304.4 L242.2,296.8 L258.71,294.4 L275.22,293 L291.72,293" fill="none" stroke="#C42233" stroke-width="0.7"/>
<circle cx="176.18" cy="295" r="2.1" fill="#C42233"/>
<circle cx="192.68" cy="299.2" r="2.1" fill="#C42233"/>
<circle cx="209.19" cy="300.8" r="2.1" fill="#C42233"/>
<circle cx="225.7" cy="304.4" r="2.1" fill="#C42233"/>
<circle cx="242.2" cy="296.8" r="2.1" fill="#C42233"/>
<circle cx="258.71" cy="294.4" r="2.1" fill="#C42233"/>
<circle cx="275.22" cy="293" r="2.1" fill="#C42233"/>
<circle cx="291.72" cy="293" r="2.1" fill="#C42233"/>
<path d="M176.18,316.2 L192.68,316.6 L209.19,305.2 L225.7,301.4 L242.2,303.4 L258.71,304.8 L275.22,309.4 L291.72,314.4 L291.72,325 L275.22,324 L258.71,323 L242.2,325 L225.7,327.6 L209.19,327 L192.68,326 L176.18,325.4 Z" fill="rgb(63,207,195)" fill-opacity="0.25"/>
<path d="M176.18,320.8 L192.68,321.6 L209.19,317 L225.7,313.8 L242.2,314.8 L258.71,313.2 L275.22,316.8 L291.72,319.2" fill="none" stroke="#45BAB8" stroke-width="0.7"/>
<circle cx="176.18" cy="320.8" r="2.1" fill="#45BAB8"/>
<circle cx="192.68" cy="321.6" r="2.1" fill="#45BAB8"/>
<circle cx="209.19" cy="317" r="2.1" fill="#45BAB8"/>
<circle cx="225.7" cy="313.8" r="2.1" fill="#45BAB8"/>
<circle cx="242.2" cy="314.8" r="2.1" fill="#45BAB8"/>
<circle cx="258.71" cy="313.2" r="2.1" fill="#45BAB8"/>
<circle cx="275.22" cy="316.8" r="2.1" fill="#45BAB8"/>
<circle cx="291.72" cy="319.2" r="2.1" fill="#45BAB8"/>
<rect x="170.4" y="240.5" width="127.1" height="92" fill="none" stroke="#333" stroke-width="0.55"/>
<rect x="170.4" y="224.5" width="127.1" height="16" fill="#D9D9D9" stroke="#333" stroke-width="0.55"/>
<text x="233.95" y="236" text-anchor="middle" font-size="10.2" fill="#111" stroke="#111" stroke-width="0.08">Oct</text>
<line x1="176.18" y1="332.5" x2="176.18" y2="335.2" stroke="#333" stroke-width="1"/>
<text x="176.18" y="342.6" text-anchor="middle" font-size="9.3" fill="#4D4D4D">0</text>
<line x1="209.19" y1="332.5" x2="209.19" y2="335.2" stroke="#333" stroke-width="1"/>
<text x="209.19" y="342.6" text-anchor="middle" font-size="9.3" fill="#4D4D4D">6</text>
<line x1="242.2" y1="332.5" x2="242.2" y2="335.2" stroke="#333" stroke-width="1"/>
<text x="242.2" y="342.6" text-anchor="middle" font-size="9.3" fill="#4D4D4D">12</text>
<line x1="275.22" y1="332.5" x2="275.22" y2="335.2" stroke="#333" stroke-width="1"/>
<text x="275.22" y="342.6" text-anchor="middle" font-size="9.3" fill="#4D4D4D">18</text>
<line x1="324.32" y1="240.5" x2="324.32" y2="332.5" stroke="#F5F5F5" stroke-width="0.6"/>
<line x1="357.38" y1="240.5" x2="357.38" y2="332.5" stroke="#F5F5F5" stroke-width="0.6"/>
<line x1="390.45" y1="240.5" x2="390.45" y2="332.5" stroke="#F5F5F5" stroke-width="0.6"/>
<line x1="423.51" y1="240.5" x2="423.51" y2="332.5" stroke="#F5F5F5" stroke-width="0.6"/>
<line x1="302" y1="311.7" x2="429.3" y2="311.7" stroke="#F5F5F5" stroke-width="0.6"/>
<line x1="302" y1="280.1" x2="429.3" y2="280.1" stroke="#F5F5F5" stroke-width="0.6"/>
<line x1="302" y1="248.5" x2="429.3" y2="248.5" stroke="#F5F5F5" stroke-width="0.6"/>
<line x1="307.79" y1="240.5" x2="307.79" y2="332.5" stroke="#EBEBEB" stroke-width="1"/>
<line x1="340.85" y1="240.5" x2="340.85" y2="332.5" stroke="#EBEBEB" stroke-width="1"/>
<line x1="373.92" y1="240.5" x2="373.92" y2="332.5" stroke="#EBEBEB" stroke-width="1"/>
<line x1="406.98" y1="240.5" x2="406.98" y2="332.5" stroke="#EBEBEB" stroke-width="1"/>
<line x1="302" y1="327.5" x2="429.3" y2="327.5" stroke="#EBEBEB" stroke-width="1"/>
<line x1="302" y1="295.9" x2="429.3" y2="295.9" stroke="#EBEBEB" stroke-width="1"/>
<line x1="302" y1="264.3" x2="429.3" y2="264.3" stroke="#EBEBEB" stroke-width="1"/>
<path d="M307.79,294.6 L324.32,296 L340.85,296 L357.38,294 L373.92,288 L390.45,284.4 L406.98,286.6 L423.51,290 L423.51,303 L406.98,301 L390.45,301 L373.92,301 L357.38,306 L340.85,308 L324.32,307.6 L307.79,307 Z" fill="rgb(163,67,87)" fill-opacity="0.25"/>
<path d="M307.79,300.8 L324.32,301.8 L340.85,302 L357.38,300 L373.92,294.6 L390.45,292.4 L406.98,294 L423.51,296.4" fill="none" stroke="#C42233" stroke-width="0.7"/>
<circle cx="307.79" cy="300.8" r="2.1" fill="#C42233"/>
<circle cx="324.32" cy="301.8" r="2.1" fill="#C42233"/>
<circle cx="340.85" cy="302" r="2.1" fill="#C42233"/>
<circle cx="357.38" cy="300" r="2.1" fill="#C42233"/>
<circle cx="373.92" cy="294.6" r="2.1" fill="#C42233"/>
<circle cx="390.45" cy="292.4" r="2.1" fill="#C42233"/>
<circle cx="406.98" cy="294" r="2.1" fill="#C42233"/>
<circle cx="423.51" cy="296.4" r="2.1" fill="#C42233"/>
<path d="M307.79,314.6 L324.32,316.6 L340.85,316 L357.38,310 L373.92,309 L390.45,306.6 L406.98,308 L423.51,312 L423.51,323 L406.98,320.6 L390.45,320 L373.92,321.4 L357.38,322 L340.85,324 L324.32,324 L307.79,323.4 Z" fill="rgb(63,207,195)" fill-opacity="0.25"/>
<path d="M307.79,318.8 L324.32,320.4 L340.85,319.6 L357.38,315.6 L373.92,315.2 L390.45,313 L406.98,314.8 L423.51,317.6" fill="none" stroke="#45BAB8" stroke-width="0.7"/>
<circle cx="307.79" cy="318.8" r="2.1" fill="#45BAB8"/>
<circle cx="324.32" cy="320.4" r="2.1" fill="#45BAB8"/>
<circle cx="340.85" cy="319.6" r="2.1" fill="#45BAB8"/>
<circle cx="357.38" cy="315.6" r="2.1" fill="#45BAB8"/>
<circle cx="373.92" cy="315.2" r="2.1" fill="#45BAB8"/>
<circle cx="390.45" cy="313" r="2.1" fill="#45BAB8"/>
<circle cx="406.98" cy="314.8" r="2.1" fill="#45BAB8"/>
<circle cx="423.51" cy="317.6" r="2.1" fill="#45BAB8"/>
<rect x="302" y="240.5" width="127.3" height="92" fill="none" stroke="#333" stroke-width="0.55"/>
<rect x="302" y="224.5" width="127.3" height="16" fill="#D9D9D9" stroke="#333" stroke-width="0.55"/>
<text x="365.65" y="236" text-anchor="middle" font-size="10.2" fill="#111" stroke="#111" stroke-width="0.08">Nov</text>
<line x1="307.79" y1="332.5" x2="307.79" y2="335.2" stroke="#333" stroke-width="1"/>
<text x="307.79" y="342.6" text-anchor="middle" font-size="9.3" fill="#4D4D4D">0</text>
<line x1="340.85" y1="332.5" x2="340.85" y2="335.2" stroke="#333" stroke-width="1"/>
<text x="340.85" y="342.6" text-anchor="middle" font-size="9.3" fill="#4D4D4D">6</text>
<line x1="373.92" y1="332.5" x2="373.92" y2="335.2" stroke="#333" stroke-width="1"/>
<text x="373.92" y="342.6" text-anchor="middle" font-size="9.3" fill="#4D4D4D">12</text>
<line x1="406.98" y1="332.5" x2="406.98" y2="335.2" stroke="#333" stroke-width="1"/>
<text x="406.98" y="342.6" text-anchor="middle" font-size="9.3" fill="#4D4D4D">18</text>
<line x1="455.77" y1="240.5" x2="455.77" y2="332.5" stroke="#F5F5F5" stroke-width="0.6"/>
<line x1="488.75" y1="240.5" x2="488.75" y2="332.5" stroke="#F5F5F5" stroke-width="0.6"/>
<line x1="521.74" y1="240.5" x2="521.74" y2="332.5" stroke="#F5F5F5" stroke-width="0.6"/>
<line x1="554.73" y1="240.5" x2="554.73" y2="332.5" stroke="#F5F5F5" stroke-width="0.6"/>
<line x1="433.5" y1="311.7" x2="560.5" y2="311.7" stroke="#F5F5F5" stroke-width="0.6"/>
<line x1="433.5" y1="280.1" x2="560.5" y2="280.1" stroke="#F5F5F5" stroke-width="0.6"/>
<line x1="433.5" y1="248.5" x2="560.5" y2="248.5" stroke="#F5F5F5" stroke-width="0.6"/>
<line x1="439.27" y1="240.5" x2="439.27" y2="332.5" stroke="#EBEBEB" stroke-width="1"/>
<line x1="472.26" y1="240.5" x2="472.26" y2="332.5" stroke="#EBEBEB" stroke-width="1"/>
<line x1="505.25" y1="240.5" x2="505.25" y2="332.5" stroke="#EBEBEB" stroke-width="1"/>
<line x1="538.23" y1="240.5" x2="538.23" y2="332.5" stroke="#EBEBEB" stroke-width="1"/>
<line x1="433.5" y1="327.5" x2="560.5" y2="327.5" stroke="#EBEBEB" stroke-width="1"/>
<line x1="433.5" y1="295.9" x2="560.5" y2="295.9" stroke="#EBEBEB" stroke-width="1"/>
<line x1="433.5" y1="264.3" x2="560.5" y2="264.3" stroke="#EBEBEB" stroke-width="1"/>
<path d="M439.27,297 L455.77,299.2 L472.26,300.2 L488.75,296 L505.25,293 L521.74,293 L538.23,289.2 L554.73,293.6 L554.73,305 L538.23,305.6 L521.74,307.2 L505.25,307.8 L488.75,309 L472.26,309.8 L455.77,309.6 L439.27,310.6 Z" fill="rgb(163,67,87)" fill-opacity="0.25"/>
<path d="M439.27,302.4 L455.77,304.4 L472.26,305.4 L488.75,302.4 L505.25,300.2 L521.74,299.8 L538.23,297.2 L554.73,300" fill="none" stroke="#C42233" stroke-width="0.7"/>
<circle cx="439.27" cy="302.4" r="2.1" fill="#C42233"/>
<circle cx="455.77" cy="304.4" r="2.1" fill="#C42233"/>
<circle cx="472.26" cy="305.4" r="2.1" fill="#C42233"/>
<circle cx="488.75" cy="302.4" r="2.1" fill="#C42233"/>
<circle cx="505.25" cy="300.2" r="2.1" fill="#C42233"/>
<circle cx="521.74" cy="299.8" r="2.1" fill="#C42233"/>
<circle cx="538.23" cy="297.2" r="2.1" fill="#C42233"/>
<circle cx="554.73" cy="300" r="2.1" fill="#C42233"/>
<path d="M439.27,303.6 L455.77,297.2 L472.26,297.6 L488.75,298.2 L505.25,297.4 L521.74,297 L538.23,295.8 L554.73,299.6 L554.73,312.6 L538.23,312.2 L521.74,313.2 L505.25,312.6 L488.75,312.2 L472.26,312.8 L455.77,313 L439.27,316 Z" fill="rgb(63,207,195)" fill-opacity="0.25"/>
<path d="M439.27,310 L455.77,304.8 L472.26,305.6 L488.75,304.8 L505.25,305.6 L521.74,305.6 L538.23,303.8 L554.73,306.4" fill="none" stroke="#45BAB8" stroke-width="0.7"/>
<circle cx="439.27" cy="310" r="2.1" fill="#45BAB8"/>
<circle cx="455.77" cy="304.8" r="2.1" fill="#45BAB8"/>
<circle cx="472.26" cy="305.6" r="2.1" fill="#45BAB8"/>
<circle cx="488.75" cy="304.8" r="2.1" fill="#45BAB8"/>
<circle cx="505.25" cy="305.6" r="2.1" fill="#45BAB8"/>
<circle cx="521.74" cy="305.6" r="2.1" fill="#45BAB8"/>
<circle cx="538.23" cy="303.8" r="2.1" fill="#45BAB8"/>
<circle cx="554.73" cy="306.4" r="2.1" fill="#45BAB8"/>
<rect x="433.5" y="240.5" width="127" height="92" fill="none" stroke="#333" stroke-width="0.55"/>
<rect x="433.5" y="224.5" width="127" height="16" fill="#D9D9D9" stroke="#333" stroke-width="0.55"/>
<text x="497" y="236" text-anchor="middle" font-size="10.2" fill="#111" stroke="#111" stroke-width="0.08">Dec</text>
<line x1="439.27" y1="332.5" x2="439.27" y2="335.2" stroke="#333" stroke-width="1"/>
<text x="439.27" y="342.6" text-anchor="middle" font-size="9.3" fill="#4D4D4D">0</text>
<line x1="472.26" y1="332.5" x2="472.26" y2="335.2" stroke="#333" stroke-width="1"/>
<text x="472.26" y="342.6" text-anchor="middle" font-size="9.3" fill="#4D4D4D">6</text>
<line x1="505.25" y1="332.5" x2="505.25" y2="335.2" stroke="#333" stroke-width="1"/>
<text x="505.25" y="342.6" text-anchor="middle" font-size="9.3" fill="#4D4D4D">12</text>
<line x1="538.23" y1="332.5" x2="538.23" y2="335.2" stroke="#333" stroke-width="1"/>
<text x="538.23" y="342.6" text-anchor="middle" font-size="9.3" fill="#4D4D4D">18</text>
<text x="300" y="363.8" text-anchor="middle" font-size="11.8" letter-spacing="0.05" fill="#000">Hour of the day</text>
<text transform="translate(9.0,259.2) rotate(-90)" font-size="11.87" fill="#000">CH<tspan font-size="8.4" dy="2">4</tspan><tspan dy="-2"> mole fractions excess (ppb)</tspan></text>
<rect x="573.7" y="162.2" width="11.9" height="11.7" fill="rgb(163,67,87)" fill-opacity="0.25"/>
<line x1="573.7" y1="167.8" x2="585.6" y2="167.8" stroke="#C42233" stroke-width="0.8"/>
<circle cx="579.6" cy="167.8" r="2.1" fill="#C42233"/>
<text x="590" y="171.5" font-size="10.4" fill="#000">cams_ppb</text>
<rect x="573.7" y="175.1" width="11.9" height="11.7" fill="rgb(63,207,195)" fill-opacity="0.25"/>
<line x1="573.7" y1="180.7" x2="585.6" y2="180.7" stroke="#45BAB8" stroke-width="0.8"/>
<circle cx="579.6" cy="180.7" r="2.1" fill="#45BAB8"/>
<text x="590" y="184.4" font-size="10.4" fill="#000">observed_increment</text>
</svg>
</body></html>
